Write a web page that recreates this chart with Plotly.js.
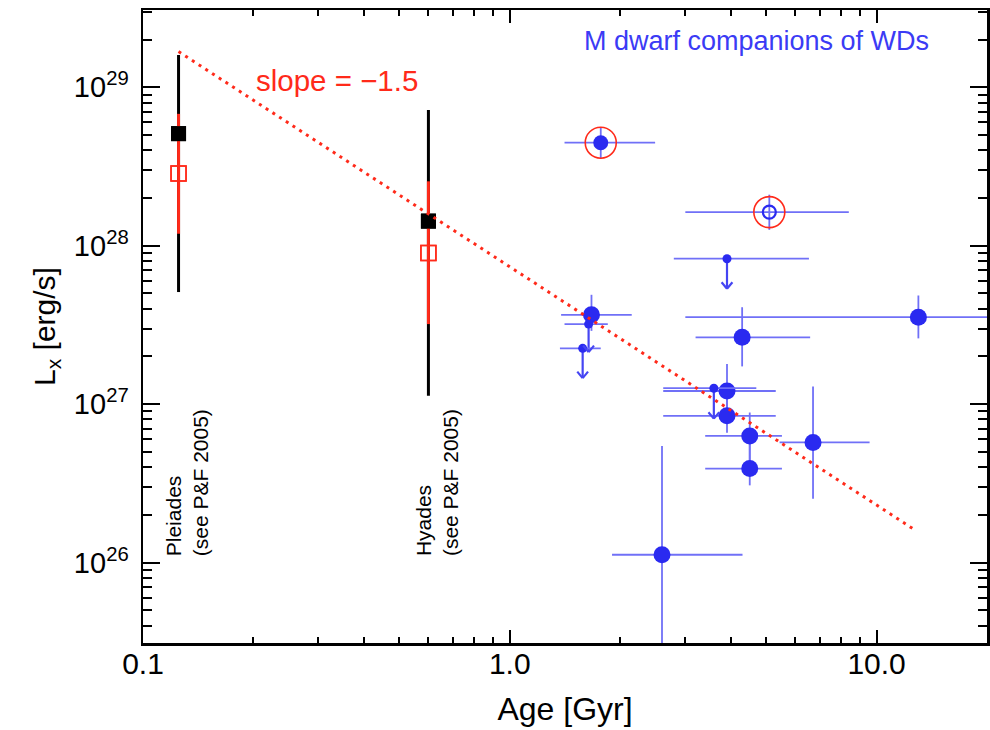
<!DOCTYPE html>
<html><head><meta charset="utf-8">
<script src="https://cdn.plot.ly/plotly-3.0.1.min.js"></script>
<style>html,body{margin:0;padding:0;background:#fff}#chart{width:990px;height:730px}</style>
</head><body><div id="chart"></div>
<script>
// ---- open clusters (P&F 2005) ----
const clusterName = ['Pleiades', 'Hyades'];
const clusterAge = [0.125, 0.6];
const clusterLxMean = [5.1e28, 1.43e28];
const clusterLxMeanLo = [5.1e27, 1.13e27];
const clusterLxMeanHi = [1.6e29, 7.2e28];
const clusterLxMed = [2.86e28, 9.0e27];
const clusterLxMedLo = [1.19e28, 3.2e27];
const clusterLxMedHi = [6.8e28, 2.55e28];

// ---- M dwarf companions of WDs: detections ----
const detAge = [1.67, 4.30, 3.91, 3.91, 4.51, 4.51, 6.71, 2.60, 13.0];
const detAgeLo = [1.38, 3.21, 2.62, 2.62, 3.41, 3.41, 5.44, 1.90, 3.01];
const detAgeHi = [2.15, 6.59, 5.31, 5.31, 5.52, 5.52, 9.57, 4.31, 30.0];
const detLx = [3.66e27, 2.64e27, 1.21e27, 8.44e26, 6.3e26, 3.92e26, 5.73e26, 1.12e26, 3.54e27];
const detLxLo = [2.9e27, 1.73e27, 8.5e26, 6.6e26, 4.2e26, 3.07e26, 2.53e26, 1e25, 2.6e27];
const detLxHi = [4.9e27, 4.09e27, 1.79e27, 1.2e27, 8.85e26, 5.9e26, 1.29e27, 5.45e26, 4.85e27];

// ---- circled objects: filled one, open one ----
const circFilledAge = [1.77], circFilledAgeLo = [1.41], circFilledAgeHi = [2.49];
const circFilledLx = [4.47e28], circFilledLxLo = [3.56e28], circFilledLxHi = [5.56e28];
const circOpenAge = [5.1], circOpenAgeLo = [3.01], circOpenAgeHi = [8.40];
const circOpenLx = [1.63e28], circOpenLxLo = [1.26e28], circOpenLxHi = [2.1e28];

// ---- upper limits ----
const ulAge = [3.91, 1.64, 1.58, 3.60];
const ulAgeLo = [2.80, 1.41, 1.37, 2.62];
const ulAgeHi = [6.54, 1.85, 1.77, 4.70];
const ulLx = [8.28e27, 3.2e27, 2.25e27, 1.26e27];
const ulLxArrowTo = [5.35e27, 2.13e27, 1.46e27, 8.1e26];

// ---- power-law fit, slope -1.5 ----
const fitAge = [0.125, 12.75];
const fitLx = [1.68e29, 1.6e26];

// ---- axes ----
const xTickVals = [0.1, 1, 10];
const xTickText = ['0.1', '1.0', '10.0'];
const yTickVals = [1e26, 1e27, 1e28, 1e29];
const yTickText = ['10<sup>26</sup>', '10<sup>27</sup>', '10<sup>28</sup>', '10<sup>29</sup>'];

const BLUE = '#2a2af0', BLUE_ERR = '#7070f7', BLUE_ARROW = '#4545f3', RED = '#ff2a1a';

function minorLog(lo, hi) {
  const out = [];
  for (let e = lo; e <= hi; e++) for (let m = 2; m <= 9; m++) out.push(m * Math.pow(10, e));
  return out;
}
function err(v, lo, hi, color, thickness) {
  return {type: 'data', symmetric: false, color: color, thickness: thickness, width: 0,
          array: v.map((d, i) => hi[i] - d), arrayminus: v.map((d, i) => d - lo[i])};
}

const traces = [];
// cluster bars
traces.push({name: 'mean', x: clusterAge, y: clusterLxMean, mode: 'markers', type: 'scatter',
  marker: {symbol: 'square', size: 15, color: '#000', opacity: 1},
  error_y: err(clusterLxMean, clusterLxMeanLo, clusterLxMeanHi, '#000', 3)});
traces.push({name: 'median', x: clusterAge, y: clusterLxMed, mode: 'markers', type: 'scatter',
  marker: {symbol: 'square-open', size: 15, color: RED, opacity: 1, line: {width: 1.5, color: RED}},
  error_y: err(clusterLxMed, clusterLxMedLo, clusterLxMedHi, RED, 3)});
traces.push({name: 'mean', x: clusterAge, y: clusterLxMean, mode: 'markers', type: 'scatter',
  marker: {symbol: 'square', size: 15, color: '#000', opacity: 1}});
traces.push({name: 'median', x: clusterAge, y: clusterLxMed, mode: 'markers', type: 'scatter',
  marker: {symbol: 'square-open', size: 15, color: RED, opacity: 1, line: {width: 1.5, color: RED}}});

// detections
traces.push({name: 'detections', x: detAge, y: detLx, mode: 'markers', type: 'scatter',
  marker: {symbol: 'circle', size: 17, color: BLUE, opacity: 1},
  error_x: err(detAge, detAgeLo, detAgeHi, BLUE_ERR, 1.8),
  error_y: err(detLx, detLxLo, detLxHi, BLUE_ERR, 1.8)});
// upper limits: point, horizontal bar, arrow stem
traces.push({name: 'upper limits', x: ulAge, y: ulLx, mode: 'markers', type: 'scatter',
  marker: {symbol: 'circle', size: 9, color: BLUE, opacity: 1},
  error_x: err(ulAge, ulAgeLo, ulAgeHi, BLUE_ERR, 1.8),
  error_y: err(ulLx, ulLx, ulLxArrowTo, BLUE_ARROW, 2.2)});
// arrow heads (two arms of a V at each arrow tip)
traces.push({name: 'arrow heads', x: ulAge.concat(ulAge), y: ulLxArrowTo.concat(ulLxArrowTo),
  mode: 'markers', type: 'scatter',
  marker: {symbol: 'line-ns', size: 6, angle: ulAge.map(() => 140).concat(ulAge.map(() => -140)),
           standoff: 4.2, color: BLUE_ARROW, line: {width: 2.2, color: BLUE_ARROW}}});
// circled objects
traces.push({name: 'circled filled', x: circFilledAge, y: circFilledLx, mode: 'markers', type: 'scatter',
  marker: {symbol: 'circle', size: 15, color: BLUE, opacity: 1},
  error_x: err(circFilledAge, circFilledAgeLo, circFilledAgeHi, BLUE_ERR, 1.8),
  error_y: err(circFilledLx, circFilledLxLo, circFilledLxHi, BLUE_ERR, 1.8)});
traces.push({name: 'circled open', x: circOpenAge, y: circOpenLx, mode: 'markers', type: 'scatter',
  marker: {symbol: 'circle-open', size: 13, color: BLUE, opacity: 1, line: {width: 2.2, color: BLUE}},
  error_x: err(circOpenAge, circOpenAgeLo, circOpenAgeHi, BLUE_ERR, 1.8),
  error_y: err(circOpenLx, circOpenLxLo, circOpenLxHi, BLUE_ERR, 1.8)});
traces.push({name: 'rings', x: circFilledAge.concat(circOpenAge), y: circFilledLx.concat(circOpenLx),
  mode: 'markers', type: 'scatter',
  marker: {symbol: 'circle-open', size: 31, color: RED, opacity: 1, line: {width: 1.6, color: RED}}});
// fit line
traces.push({name: 'fit', x: fitAge, y: fitLx, mode: 'lines', type: 'scatter',
  line: {color: RED, width: 3, dash: '3px,5px'}});

const annotations = [];
clusterName.forEach((n, i) => {
  annotations.push({x: Math.log10(clusterAge[i]), xref: 'x', xshift: 8, xanchor: 'center',
    y: 0.134, yref: 'paper', yanchor: 'bottom', textangle: -90, align: 'left', showarrow: false,
    text: n + '<br>(see P&amp;F 2005)', font: {size: 21, color: '#000'}});
});
annotations.push({x: 0.2299, y: 0.8894, xref: 'paper', yref: 'paper', xanchor: 'center', yanchor: 'middle',
  text: 'slope = \u22121.5', showarrow: false, font: {size: 29.5, color: RED}});
annotations.push({x: 0.7269, y: 0.951, xref: 'paper', yref: 'paper', xanchor: 'center', yanchor: 'middle',
  text: 'M dwarf companions of WDs', showarrow: false, font: {size: 27, color: '#3b3bf5'}});

const axisCommon = {type: 'log', ticks: 'inside', tickwidth: 2, tickcolor: '#000', showline: true,
  linewidth: 2.5, linecolor: '#000', mirror: 'allticks', showgrid: false, zeroline: false};

const layout = {
  width: 990, height: 730,
  margin: {l: 143, r: 3, t: 10, b: 87, pad: 0},
  paper_bgcolor: '#fff', plot_bgcolor: '#fff',
  showlegend: false,
  font: {family: 'Liberation Sans, Arial, Helvetica, sans-serif', color: '#000', size: 28},
  xaxis: Object.assign({}, axisCommon, {range: [-1, Math.log10(20)], tickvals: xTickVals, ticktext: xTickText,
    ticklen: 13, tickfont: {size: 30}, ticklabelstandoff: -8,
    title: {text: 'Age [Gyr]', font: {size: 32}, standoff: 19},
    minor: {tickvals: minorLog(-1, 1), ticks: 'inside', ticklen: 6, tickwidth: 2, tickcolor: '#000', showgrid: false}}),
  yaxis: Object.assign({}, axisCommon, {range: [25.492, 29.488], tickvals: yTickVals, ticktext: yTickText,
    ticklen: 17, tickfont: {size: 29}, ticklabelstandoff: 6,
    title: {text: 'L<sub>x</sub> [erg/s]', font: {size: 30}, standoff: 10},
    minor: {tickvals: minorLog(25, 29), ticks: 'inside', ticklen: 9, tickwidth: 2, tickcolor: '#000', showgrid: false}}),
  annotations: annotations
};

Plotly.newPlot('chart', traces, layout, {displayModeBar: false, staticPlot: true});
</script></body></html>
